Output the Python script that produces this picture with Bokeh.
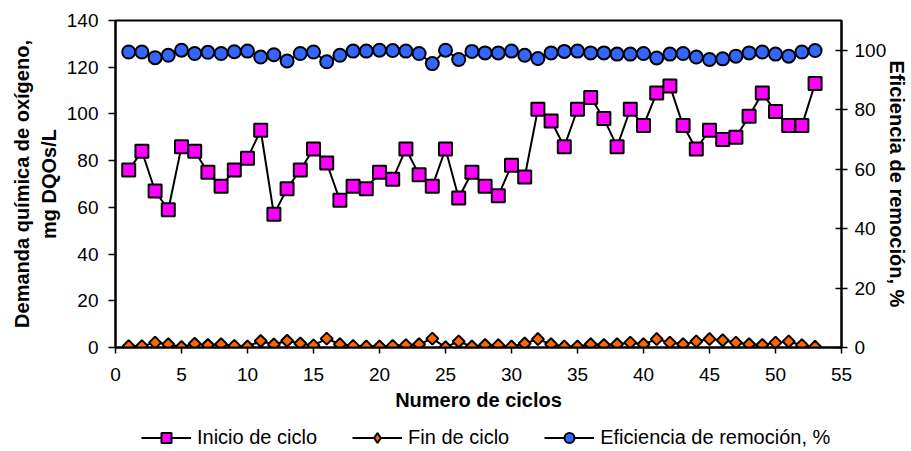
from bokeh.plotting import figure
from bokeh.layouts import column
from bokeh.models import Range1d, LinearAxis, Legend, LegendItem, FixedTicker
from bokeh.embed import file_html
from bokeh.resources import INLINE
import math

ciclos = list(range(1, 54))
inicio = [76, 84, 67, 59, 86, 84, 75, 69, 76, 81,
          93, 57, 68, 76, 85, 79, 63, 69, 68, 75,
          72, 85, 74, 69, 85, 64, 75, 69, 65, 78,
          73, 102, 97, 86, 102, 107, 98, 86, 102, 95,
          109, 112, 95, 85, 93, 89, 90, 99, 109, 101,
          95, 95, 113]
fin = [0.6, 0.6, 2.1, 1.4, 0.2, 1.6, 1.1, 1.4, 0.7, 0.4,
       2.8, 1.3, 2.9, 1.7, 0.9, 3.8, 1.4, 0.7, 0.4, 0.4,
       0.7, 1.0, 1.4, 3.8, 0.1, 2.6, 0.4, 1.1, 1.0, 0.4,
       1.7, 3.6, 1.4, 0.4, 0.4, 1.4, 1.1, 1.4, 2.1, 1.4,
       3.6, 2.1, 1.4, 2.6, 3.6, 3.1, 2.1, 1.4, 1.1, 2.1,
       2.6, 1.0, 0.3]
eficiencia = [99.4, 99.4, 97.5, 98.3, 100.0, 98.9, 99.3, 98.9, 99.5, 99.7,
              97.7, 98.5, 96.4, 98.9, 99.4, 96.1, 98.3, 99.7, 99.7, 100.0,
              99.9, 99.7, 98.9, 95.5, 100.0, 96.9, 99.6, 99.1, 99.1, 99.7,
              98.3, 97.2, 99.1, 99.6, 99.7, 99.1, 99.1, 98.7, 98.7, 98.9,
              97.4, 98.7, 98.9, 97.7, 96.9, 97.1, 98.0, 99.1, 99.4, 98.7,
              98.0, 99.4, 99.9]

x_ticks = [0, 5, 10, 15, 20, 25, 30, 35, 40, 45, 50, 55]
left_ticks = [0, 20, 40, 60, 80, 100, 120, 140]
right_ticks = [0, 20, 40, 60, 80, 100]
series_names = ["Inicio de ciclo", "Fin de ciclo", "Eficiencia de remoción, %"]

FONT = "Liberation Sans"
W = 911

p = figure(width=W, height=419, output_backend="svg", toolbar_location=None,
           x_range=Range1d(0, 55), y_range=Range1d(0, 140),
           min_border_left=115, min_border_top=20, min_border_right=67,
           min_border_bottom=72)
p.extra_y_ranges = {"ef": Range1d(0, 110)}
p.xgrid.visible = False
p.ygrid.visible = False
p.outline_line_color = "black"
p.outline_line_width = 2
p.background_fill_color = "white"

def style_axis(ax):
    ax.axis_line_color = "black"
    ax.axis_line_width = 2
    ax.major_tick_line_color = "black"
    ax.major_tick_line_width = 1.5
    ax.minor_tick_line_color = None
    ax.major_label_text_font = FONT
    ax.major_label_text_font_size = "19px"
    ax.major_label_text_color = "black"
    ax.axis_label_text_font = FONT
    ax.axis_label_text_font_size = "20px"
    ax.axis_label_text_font_style = "bold"
    ax.axis_label_text_color = "black"

xa = p.xaxis[0]
xa.ticker = FixedTicker(ticks=x_ticks)
xa.axis_label = "Numero de ciclos"
xa.major_tick_in = 0
xa.major_tick_out = 6
xa.major_label_standoff = 14
xa.axis_label_standoff = 5
style_axis(xa)

ya = p.yaxis[0]
ya.ticker = FixedTicker(ticks=left_ticks)
ya.axis_label = "Demanda química de oxígeno,\nmg DQOs/L"
ya.major_tick_in = 0
ya.major_tick_out = 7
ya.major_label_standoff = 10
ya.axis_label_standoff = 4
style_axis(ya)

ra = LinearAxis(y_range_name="ef", ticker=FixedTicker(ticks=right_ticks),
                axis_label=series_names[2])
ra.major_tick_in = 6
ra.major_tick_out = 6
ra.major_label_standoff = 7
ra.axis_label_standoff = -3
style_axis(ra)
p.add_layout(ra, "right")

styles = [
    dict(marker="square", size=13, fill_color="#FF00FF", angle=0.0),
    dict(marker="square", size=8.5, fill_color="#FF6600", angle=math.pi / 4),
    dict(marker="circle", size=13, fill_color="#3366FF", angle=0.0),
]
legend_markers = ["square", "diamond", "circle"]

p.line(ciclos, inicio, line_color="black", line_width=2)
p.scatter(ciclos, inicio, line_color="black", line_width=2, **styles[0])
p.line(ciclos, fin, line_color="black", line_width=2)
p.scatter(ciclos, fin, line_color="black", line_width=2, **styles[1])
p.line(ciclos, eficiencia, line_color="black", line_width=2, y_range_name="ef")
p.scatter(ciclos, eficiencia, line_color="black", line_width=2, y_range_name="ef",
          **styles[2])

# legend strip below the chart (its frame is aligned with the chart's frame)
lg = figure(width=W, height=32, output_backend="svg", toolbar_location=None,
            x_range=Range1d(0, 1), y_range=Range1d(0, 1),
            x_axis_type=None, y_axis_type=None, min_border=0)
lg.outline_line_color = None
lg.xgrid.visible = False
lg.ygrid.visible = False
items = []
for name, st, mk in zip(series_names, styles, legend_markers):
    lr = lg.line(x=[-5, -4], y=[-5, -5], line_color="black", line_width=2)
    sr = lg.scatter(x=[-5], y=[-5], marker=mk, fill_color=st["fill_color"],
                    line_color="black", line_width=2)
    items.append(LegendItem(label=name, renderers=[lr, sr]))

legend = Legend(items=items, orientation="horizontal", location=(26, 1))
legend.label_text_font = FONT
legend.label_text_font_size = "20px"
legend.label_text_color = "black"
legend.glyph_width = 50
legend.glyph_height = 25
legend.label_standoff = 6
legend.spacing = 35
legend.padding = 0
legend.margin = 0
legend.border_line_color = None
legend.background_fill_alpha = 0
lg.add_layout(legend, "center")

layout = column(p, lg, spacing=0)
open("out.html", "w").write(file_html(layout, INLINE))
